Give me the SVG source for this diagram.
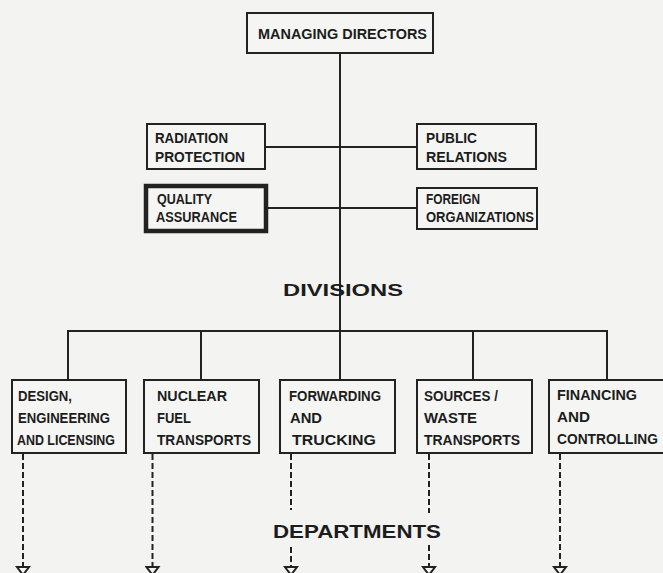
<svg xmlns="http://www.w3.org/2000/svg" width="663" height="573" viewBox="0 0 663 573">
<style>
.bg{fill:#f3f3f1}
.box{fill:#f5f5f3;stroke:#222;stroke-width:2}
.thick{stroke-width:4.5}
.t{font-family:"Liberation Sans",Arial,sans-serif;font-weight:bold;font-size:14px;fill:#1c1c1c}
.h{font-family:"Liberation Sans",Arial,sans-serif;font-weight:bold;fill:#1c1c1c}
.ln{stroke:#222;stroke-width:2;fill:none}
.dash{stroke:#222;stroke-width:2;fill:none;stroke-dasharray:6 3}
</style>
<defs>
<marker id="arr" markerUnits="userSpaceOnUse" markerWidth="16" markerHeight="12" refX="8" refY="2" orient="0" viewBox="0 0 16 12">
<path d="M2,2 L14,2 L8,10 Z" fill="none" stroke="#222" stroke-width="2"/>
</marker>
</defs>
<rect class="bg" x="0" y="0" width="663" height="573"/>

<g id="connectors">
<line class="ln" x1="340" y1="53" x2="340" y2="380"/>
<line class="ln" x1="265" y1="147" x2="417" y2="147"/>
<line class="ln" x1="267" y1="208" x2="417" y2="208"/>
<polyline class="ln" points="68,380 68,331 607,331 607,380"/>
<line class="ln" x1="201" y1="331" x2="201" y2="380"/>
<line class="ln" x1="473" y1="331" x2="473" y2="380"/>
<line class="dash" x1="23" y1="454" x2="23" y2="567" marker-end="url(#arr)"/>
<line class="dash" x1="152.5" y1="454" x2="152.5" y2="567" marker-end="url(#arr)"/>
<line class="dash" x1="291" y1="454" x2="291" y2="510"/>
<line class="dash" x1="291" y1="547" x2="291" y2="567" marker-end="url(#arr)"/>
<line class="dash" x1="429" y1="454" x2="429" y2="513"/>
<line class="dash" x1="429" y1="545" x2="429" y2="567" marker-end="url(#arr)"/>
<line class="dash" x1="560" y1="454" x2="560" y2="567" marker-end="url(#arr)"/>
</g>

<g id="managing-directors">
<rect class="box" x="247" y="13" width="186" height="40"/>
<text class="t" x="258" y="39" textLength="169" lengthAdjust="spacingAndGlyphs">MANAGING DIRECTORS</text>
</g>
<g id="radiation-protection">
<rect class="box" x="147" y="124" width="118" height="45"/>
<text class="t" x="155" y="143" textLength="73" lengthAdjust="spacingAndGlyphs">RADIATION</text>
<text class="t" x="155" y="162" textLength="90" lengthAdjust="spacingAndGlyphs">PROTECTION</text>
</g>
<g id="public-relations">
<rect class="box" x="417" y="124" width="119" height="45"/>
<text class="t" x="426" y="143" textLength="51" lengthAdjust="spacingAndGlyphs">PUBLIC</text>
<text class="t" x="426" y="162" textLength="81" lengthAdjust="spacingAndGlyphs">RELATIONS</text>
</g>
<g id="quality-assurance">
<rect class="box thick" x="146" y="186" width="120" height="45"/>
<text class="t" x="157" y="204" textLength="55" lengthAdjust="spacingAndGlyphs">QUALITY</text>
<text class="t" x="156" y="222" textLength="81" lengthAdjust="spacingAndGlyphs">ASSURANCE</text>
</g>
<g id="foreign-organizations">
<rect class="box" x="417" y="188" width="120" height="41"/>
<text class="t" x="426" y="204" textLength="54" lengthAdjust="spacingAndGlyphs">FOREIGN</text>
<text class="t" x="426" y="222" textLength="108" lengthAdjust="spacingAndGlyphs">ORGANIZATIONS</text>
</g>

<g id="divisions-label">
<text class="h" x="283" y="296" font-size="17" textLength="120" lengthAdjust="spacingAndGlyphs">DIVISIONS</text>
</g>

<g id="design">
<rect class="box" x="12" y="380" width="114" height="73"/>
<text class="t" x="18" y="401" textLength="54" lengthAdjust="spacingAndGlyphs">DESIGN,</text>
<text class="t" x="18" y="423" textLength="92" lengthAdjust="spacingAndGlyphs">ENGINEERING</text>
<text class="t" x="17" y="445" textLength="98" lengthAdjust="spacingAndGlyphs">AND LICENSING</text>
</g>
<g id="nuclear">
<rect class="box" x="144" y="380" width="115" height="73"/>
<text class="t" x="157" y="401" textLength="70" lengthAdjust="spacingAndGlyphs">NUCLEAR</text>
<text class="t" x="157" y="423" textLength="34" lengthAdjust="spacingAndGlyphs">FUEL</text>
<text class="t" x="157" y="445" textLength="94" lengthAdjust="spacingAndGlyphs">TRANSPORTS</text>
</g>
<g id="forwarding">
<rect class="box" x="280" y="380" width="115" height="73"/>
<text class="t" x="289" y="401" textLength="92" lengthAdjust="spacingAndGlyphs">FORWARDING</text>
<text class="t" x="290" y="423" textLength="32" lengthAdjust="spacingAndGlyphs">AND</text>
<text class="t" x="292" y="445" textLength="84" lengthAdjust="spacingAndGlyphs">TRUCKING</text>
</g>
<g id="sources">
<rect class="box" x="417" y="380" width="115" height="73"/>
<text class="t" x="424" y="401" textLength="74" lengthAdjust="spacingAndGlyphs">SOURCES /</text>
<text class="t" x="424" y="423" textLength="53" lengthAdjust="spacingAndGlyphs">WASTE</text>
<text class="t" x="424" y="445" textLength="96" lengthAdjust="spacingAndGlyphs">TRANSPORTS</text>
</g>
<g id="financing">
<rect class="box" x="549" y="380" width="130" height="73"/>
<text class="t" x="557" y="400" textLength="80" lengthAdjust="spacingAndGlyphs">FINANCING</text>
<text class="t" x="557" y="422" textLength="33" lengthAdjust="spacingAndGlyphs">AND</text>
<text class="t" x="557" y="444" textLength="101" lengthAdjust="spacingAndGlyphs">CONTROLLING</text>
</g>

<g id="departments-label">
<text class="h" x="273" y="538" font-size="19" textLength="168" lengthAdjust="spacingAndGlyphs">DEPARTMENTS</text>
</g>
</svg>
